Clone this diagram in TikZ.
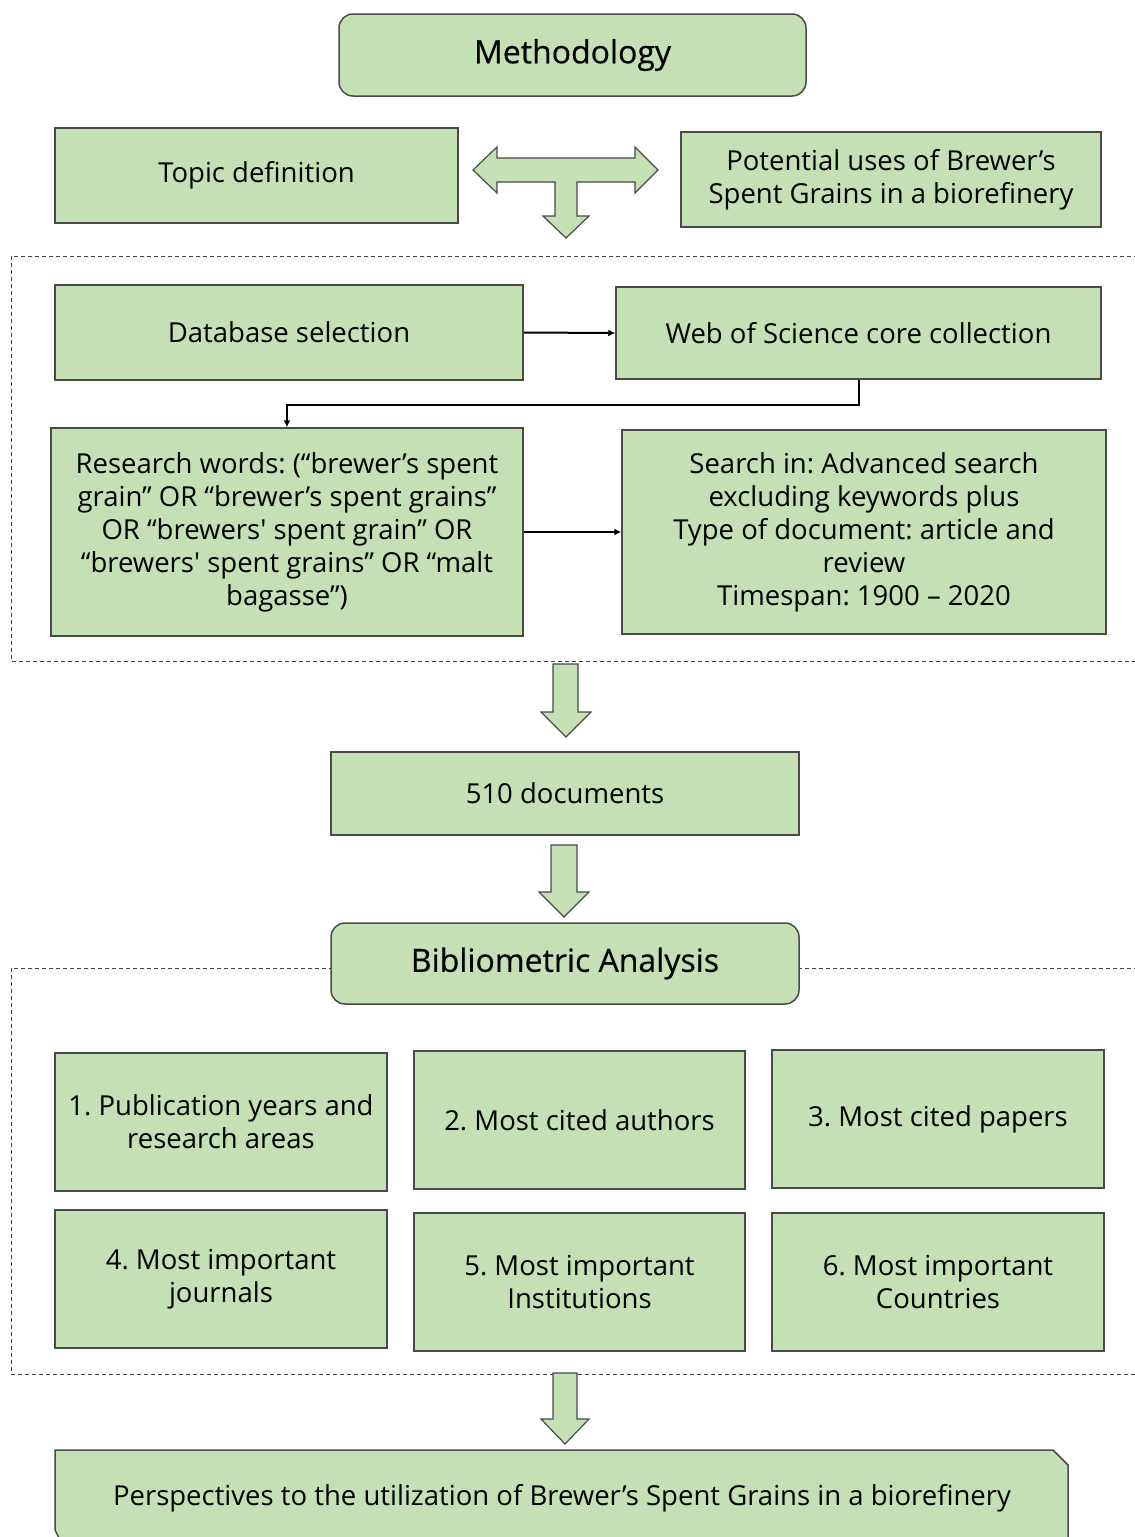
\documentclass[tikz,border=0pt]{standalone}
\usepackage{fontspec}
\newfontfamily\osans{Open Sans}
\newfontfamily\osanstitle{Open Sans}[FakeBold=0.5]
\usetikzlibrary{arrows.meta}
\definecolor{boxfill}{HTML}{C5E0B4}
\definecolor{boxline}{HTML}{4A4A4A}
\frenchspacing
\tikzset{
  box/.style={draw=boxline, line width=1.5pt, fill=boxfill, inner sep=0pt, align=center,
    font=\osans\fontsize{27.5}{33}\selectfont},
  rbox/.style={box, rounded corners=14pt, font=\osanstitle\fontsize{32}{38}\selectfont},
  blk/.style={draw=boxline, line width=1.2pt, fill=boxfill, line join=miter},
  conn/.style={draw=black, line width=2pt, -{Latex[length=7pt,width=7pt]}},
  dashbox/.style={draw=black!75, line width=1pt, dash pattern=on 4pt off 3pt}
}
\begin{document}
\begin{tikzpicture}[x=1pt,y=-1pt]
\useasboundingbox (0,0) rectangle (1135,1537);
\clip (0,0) rectangle (1135,1537);
\fill[white] (0,0) rectangle (1135,1537);

% dashed regions
\draw[dashbox] (1145,256) -- (11,256) -- (11,661) -- (1145,661);
\draw[dashbox] (1145,968) -- (11,968) -- (11,1374) -- (1145,1374);

% nodes
\node[rbox, minimum width=467pt, minimum height=82pt] (meth) at (572.5,55) {Methodology};
\node[box, minimum width=403pt, minimum height=95pt] (topic) at (256.5,175.5) {Topic definition};
\node[box, minimum width=420pt, minimum height=95pt] (pot) at (891,179.5) {Potential uses of Brewer’s\\Spent Grains in a biorefinery};

% T-shaped block arrow
\draw[blk] (473,170) -- (497,147) -- (497,158) -- (635,158) -- (635,147) -- (658,170)
  -- (635,193) -- (635,182) -- (577,182) -- (577,216) -- (589,216) -- (566,238)
  -- (543,216) -- (555,216) -- (555,182) -- (497,182) -- (497,193) -- cycle;

\node[box, minimum width=468pt, minimum height=95pt] (db) at (289,332.5) {Database selection};
\node[box, minimum width=485pt, minimum height=92pt] (wos) at (858.5,333) {Web of Science core collection};
\node[box, minimum width=472pt, minimum height=208pt] (rw) at (287,532)
  {Research words: (“brewer’s spent\\grain” OR “brewer’s spent grains”\\OR “brewers' spent grain” OR\\“brewers' spent grains” OR “malt\\bagasse”)};
\node[box, minimum width=484pt, minimum height=204pt] (si) at (864,532)
  {Search in: Advanced search\\excluding keywords plus\\Type of document: article and\\review\\Timespan: 1900 – 2020};

\draw[conn] (db.east) -- (wos.west);
\draw[conn] (wos.south) -- ++(0,25) -| (rw.north);
\draw[conn] (rw.east) -- (si.west |- rw.east);

% block arrow 1
\draw[blk] (553,664) -- (578,664) -- (578,712) -- (591,712) -- (566,737) -- (541,712) -- (553,712) -- cycle;

\node[box, minimum width=468pt, minimum height=83pt] (docs) at (565,793.5) {510 documents};

% block arrow 2
\draw[blk] (551,845) -- (577,845) -- (577,892) -- (589,892) -- (564,917) -- (539,892) -- (551,892) -- cycle;

\node[rbox, minimum width=468pt, minimum height=81pt] (bib) at (565,963.5) {Bibliometric Analysis};

\node[box, minimum width=332pt, minimum height=138pt] (b1) at (221,1122) {1. Publication years and\\research areas};
\node[box, minimum width=331pt, minimum height=138pt] (b2) at (579.5,1120) {2. Most cited authors};
\node[box, minimum width=332pt, minimum height=138pt] (b3) at (938,1119) {3. Most cited papers};
\node[box, minimum width=332pt, minimum height=138pt] (b4) at (221,1279) {4. Most important\\journals};
\node[box, minimum width=331pt, minimum height=138pt] (b5) at (579.5,1282) {5. Most important\\Institutions};
\node[box, minimum width=332pt, minimum height=138pt] (b6) at (938,1282) {6. Most important\\Countries};

% block arrow 3
\draw[blk] (553,1373) -- (577,1373) -- (577,1419) -- (589,1419) -- (565,1444) -- (541,1419) -- (553,1419) -- cycle;

% bottom snipped box
\draw[draw=boxline, line width=1.5pt, fill=boxfill] (55,1450) -- (1053,1450) -- (1068,1465)
  -- (1068,1560) -- (70,1560) -- (55,1530) -- cycle;
\node[font=\osans\fontsize{27.5}{33}\selectfont, inner sep=0pt] (persp) at (562,1498)
  {Perspectives to the utilization of Brewer’s Spent Grains in a biorefinery};
\end{tikzpicture}
\end{document}
